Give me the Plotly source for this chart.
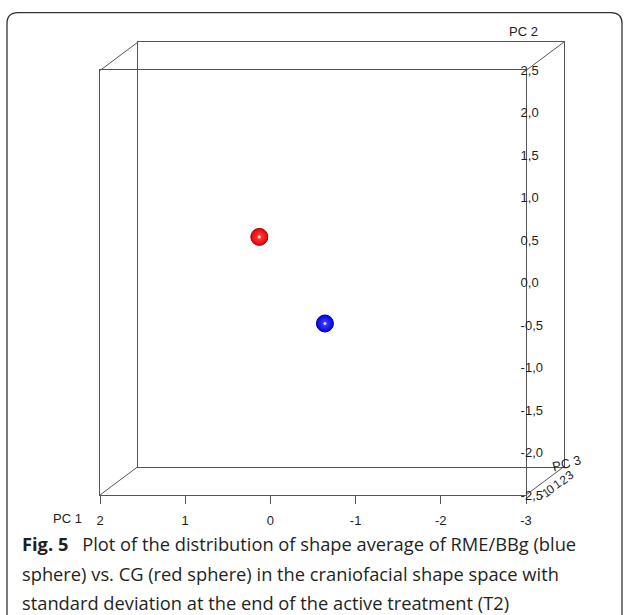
import plotly.graph_objects as go

# ---------------- data ----------------
GROUPS = ["RME/BBg", "CG"]
PC1 = [-0.64, 0.13]
PC2 = [-0.48, 0.54]
SPHERE_COLORS = ["#0000ee", "#ee0000"]
SPHERE_EDGE = ["#00009a", "#a00000"]
SPHERE_CENTER = ["#4a4aff", "#ff4a4a"]

PC1_RANGE = [2, -3]
PC1_TICKS = [2, 1, 0, -1, -2, -3]
PC1_TICKTEXT = ["2", "1", "0", "-1", "-2", "-3"]

PC2_RANGE = [-2.5, 2.5]
PC2_TICKS = [-2.5, -2.0, -1.5, -1.0, -0.5, 0.0, 0.5, 1.0, 1.5, 2.0, 2.5]
PC2_TICKTEXT = ["-2,5", "-2,0", "-1,5", "-1,0", "-0,5", "0,0",
                "0,5", "1,0", "1,5", "2,0", "2,5"]

PC3_RANGE = [-2.5, 3.5]
PC3_TICKS = [-2, -1, 0, 1, 2, 3]
PC3_TICKTEXT = ["-2", "-1", "0", "1", "2", "3"]

AXIS_TITLES = ["PC 1", "PC 2", "PC 3"]

CAPTION = [
    "<b>Fig. 5</b> \u2002Plot of the distribution of shape average of RME/BBg (blue",
    "sphere) vs. CG (red sphere) in the craniofacial shape space with",
    "standard deviation at the end of the active treatment (T2)",
]

# ---------------- geometry (pixels) ----------------
FIG_W, FIG_H = 624, 615
F_L, F_R, F_T, F_B = 100, 526, 70, 495      # front face of the box
DX, DY = 38, -28.5                           # depth offset of back face
P_L, P_R, P_T, P_B = F_L, F_R + DX, F_T + DY, F_B
P_W, P_H = P_R - P_L, P_B - P_T


def px(x):
    return (x - P_L) / P_W


def py(y):
    return (P_B - y) / P_H


LINE_COL = "#555555"
TICK_FONT = dict(family="Liberation Sans, Arial, sans-serif", size=13, color="#1e1e1e")

fig = go.Figure()

# spheres
fig.add_trace(go.Scatter(
    x=PC1, y=PC2, mode="markers", xaxis="x", yaxis="y",
    text=GROUPS, hoverinfo="text",
    marker=dict(size=17, color=SPHERE_COLORS,
                gradient=dict(type="radial", color=SPHERE_CENTER),
                line=dict(width=1, color=SPHERE_EDGE)),
    showlegend=False,
))
fig.add_trace(go.Scatter(
    x=PC1, y=PC2, mode="markers", xaxis="x", yaxis="y", hoverinfo="skip",
    marker=dict(size=3, color="rgba(255,255,255,0.8)", line=dict(width=0)),
    showlegend=False,
))
# back-face subplot (no marks)
fig.add_trace(go.Scatter(x=[None], y=[None], xaxis="x2", yaxis="y2",
                         mode="markers", showlegend=False, hoverinfo="skip"))

fig.update_layout(
    width=FIG_W, height=FIG_H,
    margin=dict(l=P_L, r=FIG_W - P_R, t=P_T, b=FIG_H - P_B, pad=0),
    paper_bgcolor="white", plot_bgcolor="rgba(0,0,0,0)",
    xaxis=dict(domain=[0, px(F_R)], anchor="y", range=PC1_RANGE,
               tickmode="array", tickvals=PC1_TICKS, ticktext=PC1_TICKTEXT,
               ticks="outside", ticklen=8, tickwidth=1, tickcolor=LINE_COL,
               ticklabelstandoff=5,
               showline=True, linecolor=LINE_COL, linewidth=1, mirror=True,
               showgrid=False, zeroline=False, tickfont=TICK_FONT),
    yaxis=dict(domain=[0, py(F_T)], anchor="x", side="right", range=PC2_RANGE,
               tickmode="array", tickvals=PC2_TICKS, ticktext=PC2_TICKTEXT,
               ticks="", ticklabelstandoff=-9,
               showline=True, linecolor=LINE_COL, linewidth=1, mirror=True,
               showgrid=False, zeroline=False, tickfont=TICK_FONT),
    xaxis2=dict(domain=[px(F_L + DX), 1], anchor="y2", range=PC1_RANGE,
                showticklabels=False, ticks="",
                showline=True, linecolor=LINE_COL, linewidth=1, mirror=True,
                showgrid=False, zeroline=False),
    yaxis2=dict(domain=[py(F_B + DY), 1], anchor="x2", range=PC2_RANGE,
                showticklabels=False, ticks="",
                showline=True, linecolor=LINE_COL, linewidth=1, mirror=True,
                showgrid=False, zeroline=False),
)

# depth edges of the box
shapes = []
for cx, cy in [(F_L, F_T), (F_R, F_T), (F_L, F_B), (F_R, F_B)]:
    shapes.append(dict(type="line", xref="paper", yref="paper",
                       x0=px(cx), y0=py(cy), x1=px(cx + DX), y1=py(cy + DY),
                       line=dict(color=LINE_COL, width=1)))

# outer rounded frame
fl, ft, fr, fb, rad = 7, 12, 622, 640, 11
path = (f"M {px(fl)},{py(fb)} L {px(fl)},{py(ft + rad)} "
        f"Q {px(fl)},{py(ft)} {px(fl + rad)},{py(ft)} "
        f"L {px(fr - rad)},{py(ft)} Q {px(fr)},{py(ft)} {px(fr)},{py(ft + rad)} "
        f"L {px(fr)},{py(fb)}")
shapes.append(dict(type="path", xref="paper", yref="paper", path=path,
                   line=dict(color="#333333", width=1.3)))
fig.update_layout(shapes=shapes)

ann = []
# axis titles
ann.append(dict(x=px(67), y=py(519), text=AXIS_TITLES[0], showarrow=False,
                xref="paper", yref="paper", font=TICK_FONT,
                xanchor="center", yanchor="middle"))
ann.append(dict(x=px(523), y=py(31), text=AXIS_TITLES[1], showarrow=False,
                xref="paper", yref="paper", font=TICK_FONT,
                xanchor="center", yanchor="middle"))
ann.append(dict(x=px(566), y=py(463), text=AXIS_TITLES[2], showarrow=False,
                xref="paper", yref="paper", font=TICK_FONT, textangle=-15,
                xanchor="center", yanchor="middle"))
# PC3 tick labels along the depth edge
span = PC3_RANGE[1] - PC3_RANGE[0]
for v, t in zip(PC3_TICKS[1:], PC3_TICKTEXT[1:]):
    f = (v - PC3_RANGE[0]) / span
    x = F_R + f * DX + 9
    y = F_B + f * DY + 6
    ann.append(dict(x=px(x), y=py(y), text=t, showarrow=False,
                    xref="paper", yref="paper", textangle=-35,
                    font=dict(family=TICK_FONT["family"], size=12, color="#1e1e1e"),
                    xanchor="center", yanchor="middle"))
# caption
cap_font = dict(family="Open Sans, sans-serif", size=18.3, color="#231f20")
for i, line in enumerate(CAPTION):
    ann.append(dict(x=px(20), y=py(544 + 29.5 * i), text=line, showarrow=False,
                    xref="paper", yref="paper", font=cap_font,
                    xanchor="left", yanchor="middle", align="left"))
fig.update_layout(annotations=ann)

fig.write_html("out.html")
